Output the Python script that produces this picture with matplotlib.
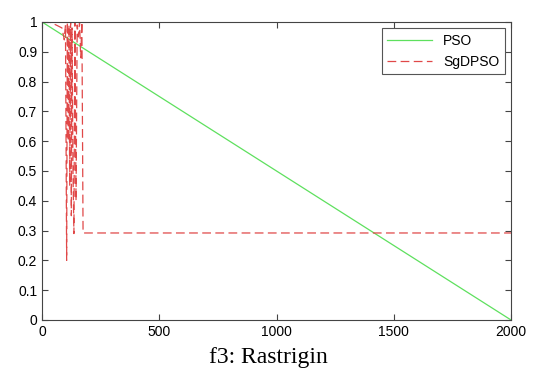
import matplotlib
matplotlib.use('Agg')
import matplotlib.pyplot as plt
from matplotlib.ticker import FuncFormatter

# PSO: straight descent from 1 to 0
pso_x = [0, 2000]
pso_y = [1.0, 0.0]

# SgDPSO: oscillations early on, then flat at ~0.29
sg_x = [0, 30, 60, 85, 95, 100, 105, 108, 112, 115, 118, 122, 125, 128, 132,
        136, 140, 145, 150, 155, 160, 165, 170, 175, 2000]
sg_y = [1.0, 1.0, 0.99, 0.98, 0.94, 0.99, 0.2, 1.0, 0.6, 0.99, 0.45, 1.0, 0.35,
        0.98, 0.5, 0.29, 1.0, 0.4, 0.99, 0.95, 1.0, 0.88, 1.0, 0.292, 0.292]

plt.rcParams['font.family'] = ['Liberation Sans', 'DejaVu Sans']

fig = plt.figure(figsize=(5.36, 3.69), dpi=100)
ax = fig.add_axes([0.0784, 0.1328, 0.875, 0.8076])

ax.plot(pso_x, pso_y, color='#5ee05e', lw=0.9, label='PSO')
ax.plot(sg_x, sg_y, color='#e04848', lw=0.9, dashes=(7, 3.5), label='SgDPSO')

ax.set_xlim(0, 2000)
ax.set_ylim(0, 1)
ax.set_xticks([0, 500, 1000, 1500, 2000])
ax.set_yticks([i / 10 for i in range(11)])
ax.yaxis.set_major_formatter(FuncFormatter(lambda v, p: '%g' % round(v, 1)))
ax.tick_params(direction='in', top=True, right=True, labelsize=10, length=4, color='#444444')
for s in ax.spines.values():
    s.set_color('#444444')
    s.set_linewidth(0.8)

leg = ax.legend(loc='upper right', fontsize=10, fancybox=False, edgecolor='#555555',
                handlelength=3.2, borderaxespad=0.45, framealpha=1)
leg.get_frame().set_linewidth(0.8)

fig.text(0.5, 0.016, 'f3: Rastrigin', ha='center', va='baseline',
         family='Liberation Serif', fontsize=17)

fig.savefig('out.png', dpi=100)
